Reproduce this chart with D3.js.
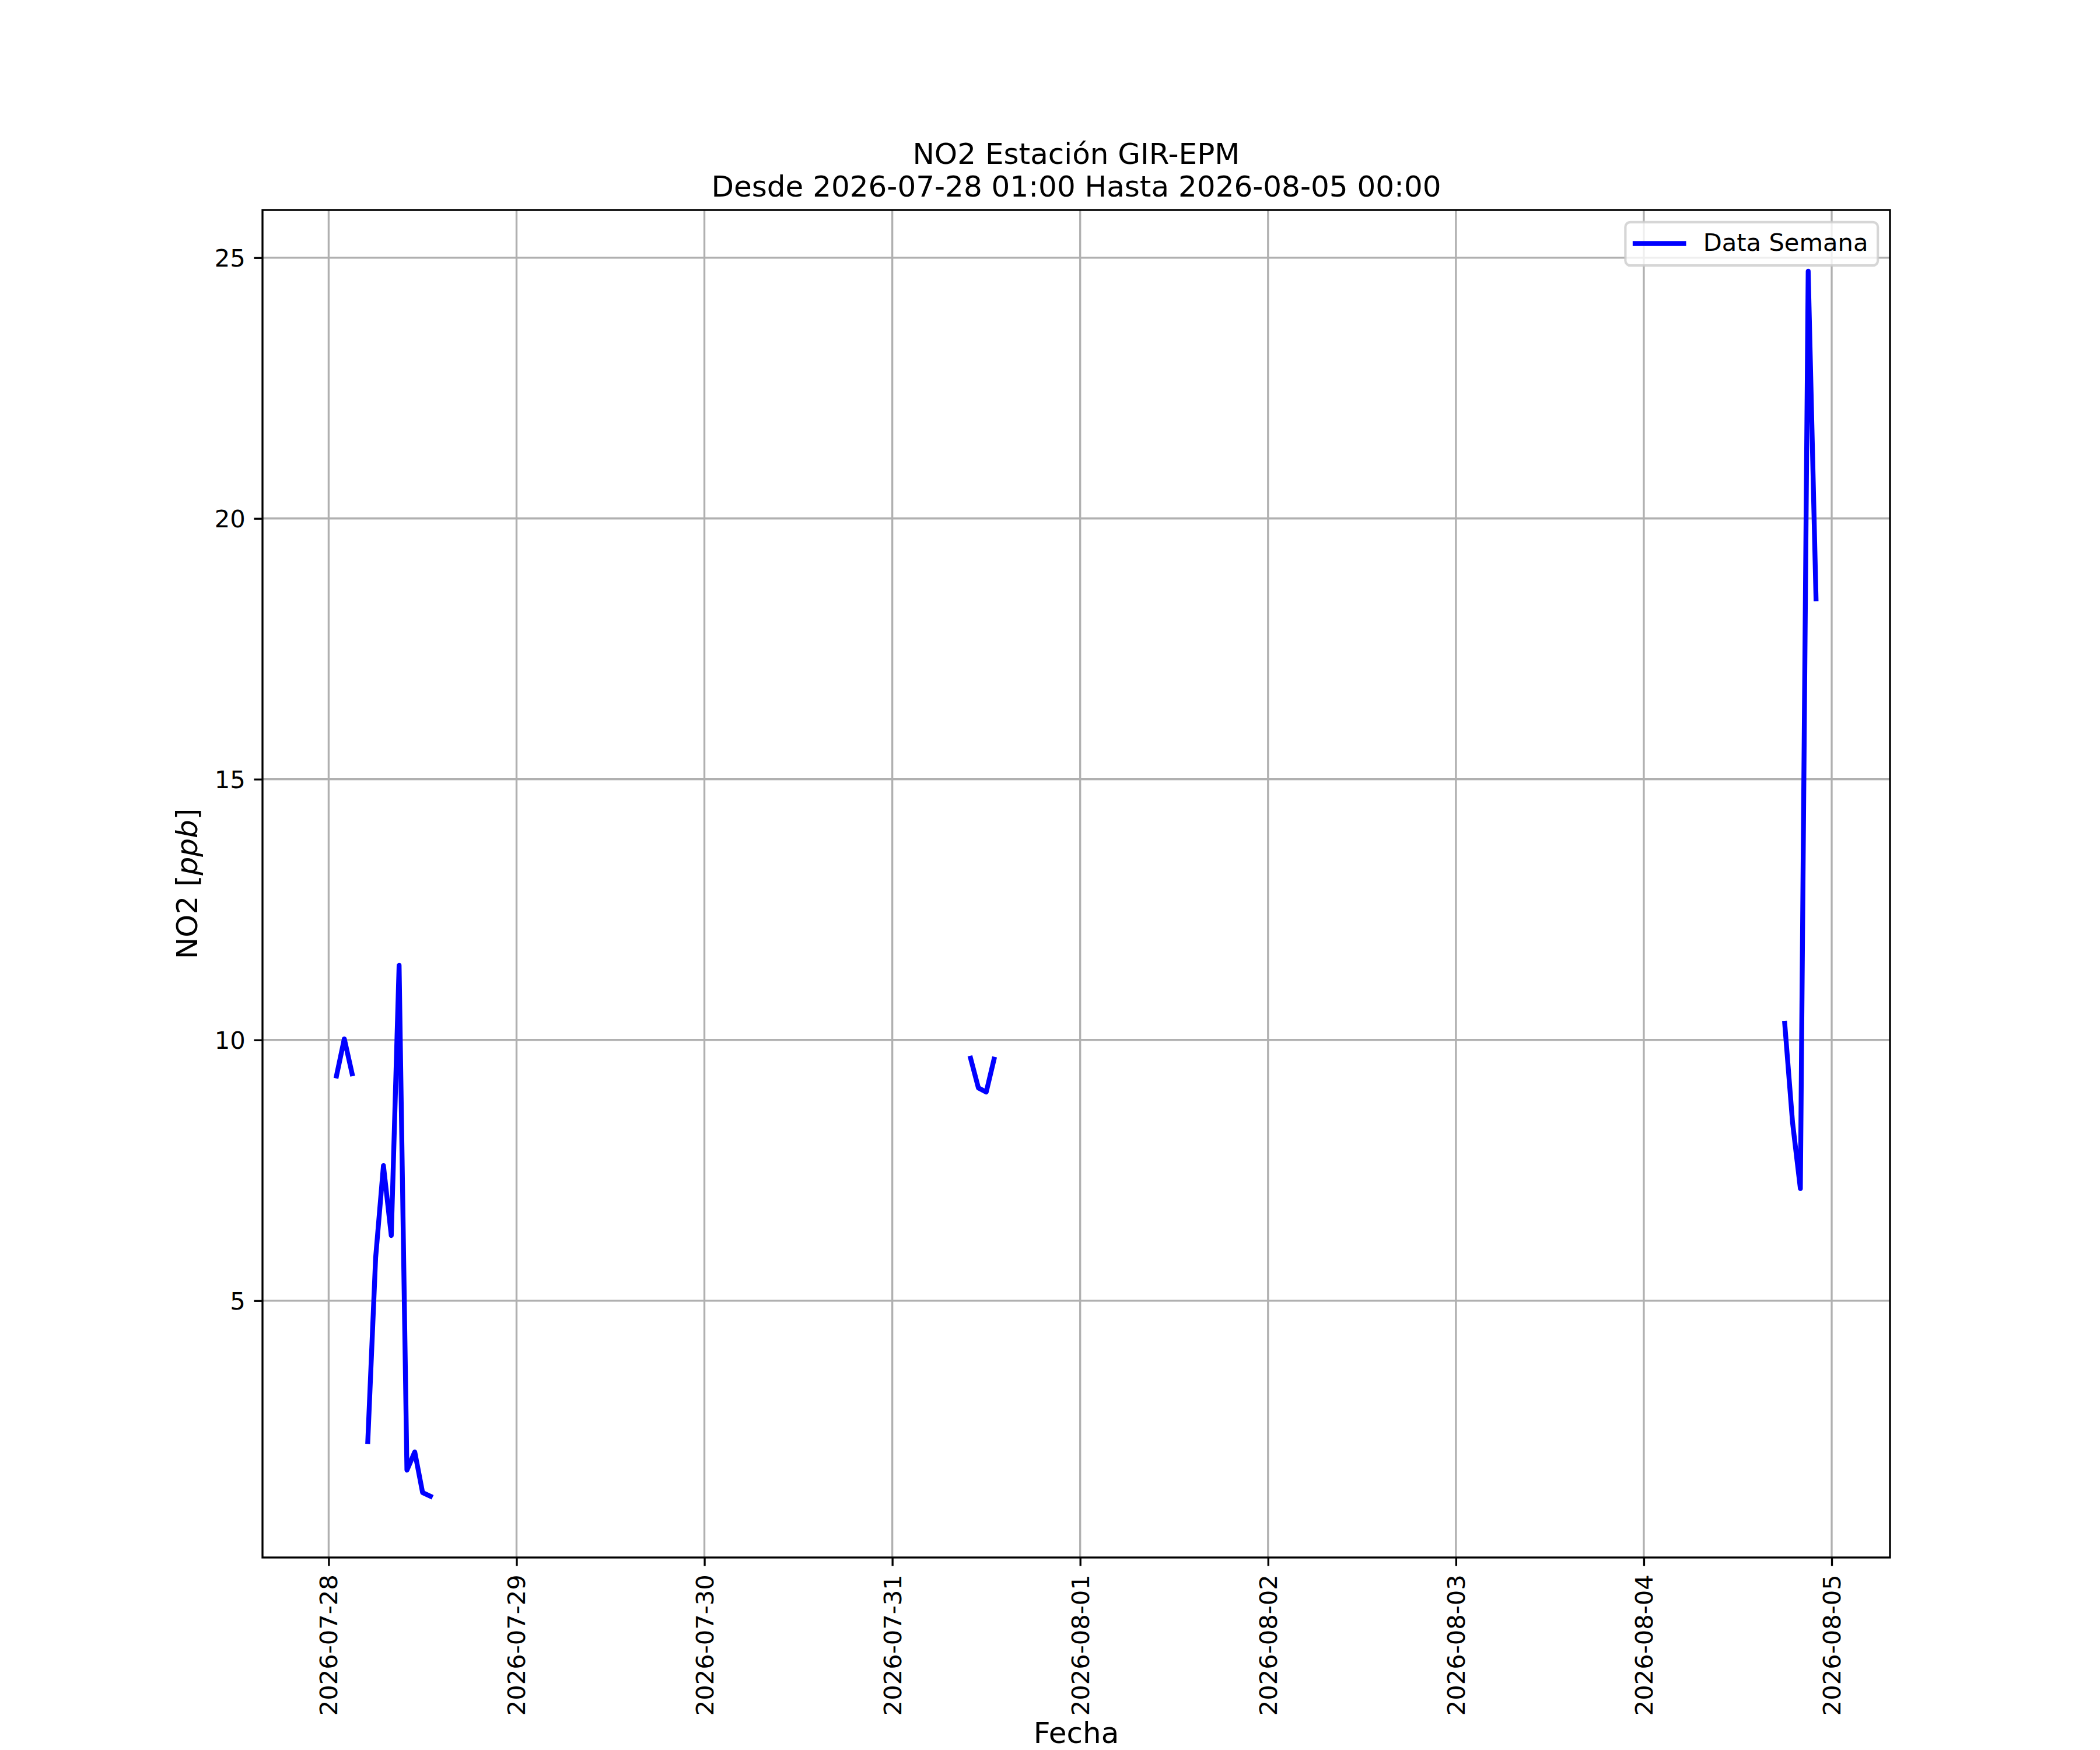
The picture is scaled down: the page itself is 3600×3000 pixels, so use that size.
<!DOCTYPE html>
<html>
<head>
<meta charset="utf-8">
<script src="https://cdn.jsdelivr.net/npm/d3@7"></script>
<style>
body{margin:0;background:#fff;}
svg{display:block;font-family:"DejaVu Sans",sans-serif;}
</style>
</head>
<body>
<svg id="chart" width="3600" height="3000"></svg>
<script>
// hourly readings, null = missing hour (breaks the line)
const fechas=["2026-07-28 01:00","2026-07-28 02:00","2026-07-28 03:00","2026-07-28 04:00",
  "2026-07-28 05:00","2026-07-28 06:00","2026-07-28 07:00","2026-07-28 08:00","2026-07-28 09:00",
  "2026-07-28 10:00","2026-07-28 11:00","2026-07-28 12:00","2026-07-28 13:00","2026-07-28 14:00",
  "2026-07-31 10:00","2026-07-31 11:00","2026-07-31 12:00","2026-07-31 13:00","2026-07-31 14:00",
  "2026-08-04 18:00","2026-08-04 19:00","2026-08-04 20:00","2026-08-04 21:00","2026-08-04 22:00"];
const no2=[9.31,10.02,9.35,null,
  2.30,5.82,7.59,6.25,11.43,
  1.75,2.10,1.32,1.25,null,
  9.65,9.08,9.00,9.63,null,
  10.32,8.42,7.15,24.74,18.46];
const yTicks=[5,10,15,20,25];
const tickDays=["2026-07-28","2026-07-29","2026-07-30","2026-07-31","2026-08-01","2026-08-02","2026-08-03","2026-08-04","2026-08-05"];
const titulo=["NO2 Estación GIR-EPM","Desde 2026-07-28 01:00 Hasta 2026-08-05 00:00"];
const serie="Data Semana";

const W=3600,H=3000;
const L=450,R=3240,T=360,B=2670;
const pt=300/72;
const fs=10*pt, fsBig=12*pt;

const parse=d3.utcParse("%Y-%m-%d %H:%M");
const parseDay=d3.utcParse("%Y-%m-%d");
const data=fechas.map((f,i)=>({t:parse(f),v:no2[i]}));
const ok=data.filter(d=>d.v!=null);

let [t0,t1]=d3.extent(ok,d=>d.t);
let padT=(t1-t0)*0.05;
const x=d3.scaleUtc().domain([new Date(+t0-padT),new Date(+t1+padT)]).range([L,R]);
let [v0,v1]=d3.extent(ok,d=>d.v);
let padV=(v1-v0)*0.05;
const y=d3.scaleLinear().domain([v0-padV,v1+padV]).range([B,T]);

const svg=d3.select('#chart');
svg.append('rect').attr('width',W).attr('height',H).attr('fill','#fff');

svg.append('clipPath').attr('id','clip')
  .append('rect').attr('x',L).attr('y',T).attr('width',R-L).attr('height',B-T);

//grid
const grid=svg.append('g').attr('stroke','#b0b0b0').attr('stroke-width',0.8*pt);
tickDays.forEach(d=>{
  let xx=x(parseDay(d));
  grid.append('line').attr('x1',xx).attr('x2',xx).attr('y1',T).attr('y2',B);
});
yTicks.forEach(v=>{
  grid.append('line').attr('x1',L).attr('x2',R).attr('y1',y(v)).attr('y2',y(v));
});

//data line
const line=d3.line().defined(d=>d.v!=null).x(d=>x(d.t)).y(d=>y(d.v));
svg.append('path').datum(data)
  .attr('clip-path','url(#clip)')
  .attr('d',line)
  .attr('fill','none')
  .attr('stroke','#0000ff')
  .attr('stroke-width',2*pt)
  .attr('stroke-linejoin','round')
  .attr('stroke-linecap','square');

//spines
svg.append('rect').attr('x',L).attr('y',T).attr('width',R-L).attr('height',B-T)
  .attr('fill','none').attr('stroke','#000').attr('stroke-width',0.8*pt);

//x axis
const xAxis=d3.axisBottom(x).tickValues(tickDays.map(parseDay)).tickFormat(d3.utcFormat("%Y-%m-%d"))
  .tickSize(3.5*pt).tickPadding(3.5*pt);
const gx=svg.append('g').attr('transform',`translate(0,${B})`).call(xAxis);
gx.select('.domain').remove();
gx.selectAll('.tick line').attr('stroke','#000').attr('stroke-width',0.8*pt);
gx.selectAll('.tick text')
  .attr('font-size',fs).attr('font-family','DejaVu Sans').attr('fill','#000')
  .attr('text-anchor','end')
  .attr('x',0).attr('y',0).attr('dy',null)
  .attr('transform',`translate(0,${7*pt}) rotate(-90)`)
  .attr('dominant-baseline','central');

//y axis
const yAxis=d3.axisLeft(y).tickValues(yTicks).tickSize(3.5*pt).tickPadding(3.5*pt);
const gy=svg.append('g').attr('transform',`translate(${L},0)`).call(yAxis);
gy.select('.domain').remove();
gy.selectAll('.tick line').attr('stroke','#000').attr('stroke-width',0.8*pt);
gy.selectAll('.tick text').attr('font-size',fs).attr('font-family','DejaVu Sans').attr('fill','#000')
  .attr('dy','0.36em');

//labels
svg.append('text').attr('x',(L+R)/2).attr('y',2988).attr('text-anchor','middle')
  .attr('font-size',fsBig).text('Fecha');
const yl=svg.append('text').attr('text-anchor','middle').attr('font-size',fsBig)
  .attr('transform',`translate(338,${(T+B)/2}) rotate(-90)`);
yl.append('tspan').text('NO2 [');
yl.append('tspan').attr('font-style','italic').text('ppb');
yl.append('tspan').text(']');

//title
titulo.forEach((s,i)=>{
  svg.append('text').attr('x',(L+R)/2).attr('y',280.7+56*i).attr('text-anchor','middle')
    .attr('font-size',fsBig).text(s);
});

//legend
const lg=svg.append('g');
const box=lg.append('rect');
const lt=lg.append('text').attr('font-size',fs).attr('text-anchor','end').text(serie);
let bp=0.4*fs, bx2=R-0.5*fs, by1=T+0.5*fs;
let tw=lt.node().getComputedTextLength();
let textR=bx2-bp, textL=textR-tw;
let hR=textL-0.8*fs, hL=hR-2*fs, bx1=hL-bp;
let by2=by1+74.3;
lt.attr('x',textR).attr('y',430);
box.attr('x',bx1).attr('y',by1).attr('width',bx2-bx1).attr('height',by2-by1)
  .attr('rx',0.2*fs).attr('ry',0.2*fs)
  .attr('fill','#fff').attr('fill-opacity',0.8)
  .attr('stroke','#cccccc').attr('stroke-opacity',0.8).attr('stroke-width',1*pt);
lg.append('line').attr('x1',hL).attr('x2',hR).attr('y1',417.5).attr('y2',417.5)
  .attr('stroke','#0000ff').attr('stroke-width',2*pt).attr('stroke-linecap','square');
</script>
</body>
</html>
